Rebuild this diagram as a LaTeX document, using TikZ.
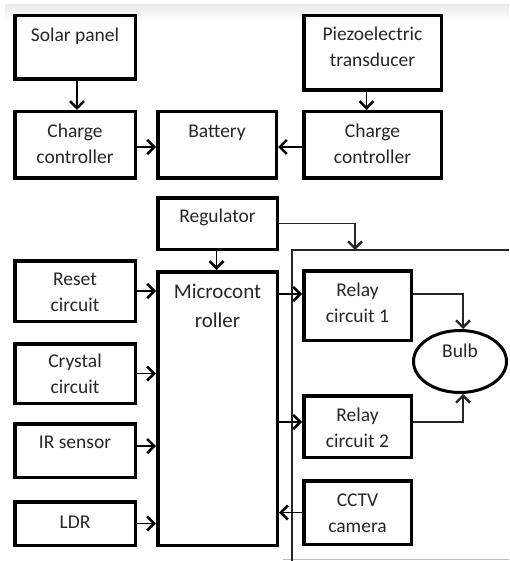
\documentclass[tikz,border=0pt]{standalone}
\usepackage{fontspec}
\setmainfont{Carlito}
\usetikzlibrary{arrows.meta,shapes.geometric}
\newcommand\mybox[7][27]{%
  \pgfmathsetmacro\mybw{#5-#3-3.5}%
  \pgfmathsetmacro\mybh{#6-#4-3.5}%
  \node[box, minimum width=\mybw pt, minimum height=\mybh pt] (#2) at ({(#3+#5)/2},{(#4+#6)/2}) {};%
  \node[txt, anchor=north] (#2t) at ({(#3+#5)/2},{#4+#1-15}) {\rule{0pt}{15pt}#7};%
}
\begin{document}
\begin{tikzpicture}[x=1pt,y=-1pt,
  box/.style={draw, line width=3.5pt, inner sep=0pt},
  txt/.style={font=\fontsize{19.5}{26.5}\selectfont, align=center, inner sep=0pt, text=black!85},
  arr/.style={line width=1.5pt, -{Straight Barb[length=7pt,width=14pt,line width=2.6pt]}},
  thin/.style={line width=1.1pt, black!85},
  thinarr/.style={line width=1.1pt, black!85, -{Straight Barb[length=7pt,width=14pt,line width=2.4pt]}}]
\useasboundingbox (0,0) rectangle (509,561);
\fill[top color=black!8, bottom color=white] (5,5) rectangle (509,21);
\draw[black!25, line width=0.8pt] (283,559) -- (509,559);

\mybox{solar}{13}{14}{137}{81}{Solar panel}
\mybox[26]{piezo}{302}{14}{443}{92}{Piezoelectric\\transducer}
\mybox{ccl}{13}{110}{137}{180}{Charge\\controller}
\mybox{bat}{156}{110}{278}{180}{Battery}
\mybox{ccr}{302}{110}{443}{180}{Charge\\controller}
\mybox[26]{reg}{156}{196}{279}{251}{Regulator}
\node[box, minimum width=119.5pt, minimum height=273.5pt] (micro) at (217.5,408.5) {};
\node[txt, anchor=north, font=\fontsize{21}{29}\selectfont] (microt) at (217.5,283) {\rule{0pt}{15pt}Microcont\\roller};
\mybox[26]{reset}{13}{259}{137}{323}{Reset\\circuit}
\mybox[25]{crys}{13}{342}{137}{405}{Crystal\\circuit}
\mybox[26]{ir}{13}{422}{137}{479}{IR sensor}
\mybox[28]{ldr}{13}{500}{137}{547}{LDR}
\mybox{rA}{302}{269}{413}{342}{Relay\\circuit 1}
\mybox{rB}{302}{394}{413}{459}{Relay\\circuit 2}
\mybox{cctv}{302}{479}{413}{546}{CCTV\\camera}
\node[draw, ellipse, line width=3pt, minimum width=93pt, minimum height=62pt, inner sep=0pt] (bulb) at (460,361.5) {};
\node[txt, anchor=base] (bulbt) at (460,357) {Bulb};

% frame
\coordinate (ftr) at (509,250);
\coordinate (ftl) at (292,250);
\coordinate (fbl) at (292,561);
\coordinate (regin) at (355,250);
\draw[thin] (ftr) -- (ftl) -- (fbl);

% helper coordinates
\coordinate (irout) at ([yshift=4.5pt]ir.east);
\coordinate (rAin) at ([yshift=11.5pt]rA.west);
\coordinate (rBin) at ([yshift=4.5pt]rB.west);
\coordinate (rAout) at ([yshift=11.5pt]rA.east);
\coordinate (rBout) at ([yshift=4.5pt]rB.east);
\coordinate (bulbN) at ([xshift=3pt]bulb.north);
\coordinate (bulbS) at ([xshift=3pt]bulb.south);

% connectors
\draw[arr] ([xshift=2pt]solar.south) -- ([xshift=2pt]ccl.north);
\draw[arr] ([xshift=-6pt]piezo.south) -- ([xshift=-6pt]ccr.north);
\draw[arr] ([yshift=-2pt]ccl.east) -- ([yshift=-2pt]bat.west);
\draw[arr] ([yshift=-2pt]ccr.west) -- ([yshift=-2pt]bat.east);
\draw[arr] ([xshift=-1pt]reg.south) -- ([xshift=-1pt]micro.north);
\draw[thinarr] (reg.east) -| (regin);
\draw[arr] (reset.east) -- (micro.west |- reset.east);
\draw[arr] (crys.east) -- (micro.west |- crys.east);
\draw[arr] (irout) -- (micro.west |- irout);
\draw[arr] (ldr.east) -- (micro.west |- ldr.east);
\draw[arr] (micro.east |- rAin) -- (rAin);
\draw[arr] (micro.east |- rBin) -- (rBin);
\draw[arr] (cctv.west) -- (micro.east |- cctv.west);
\draw[thinarr] (rAout) -| (bulbN);
\draw[thinarr] (rBout) -| (bulbS);
\end{tikzpicture}
\end{document}
